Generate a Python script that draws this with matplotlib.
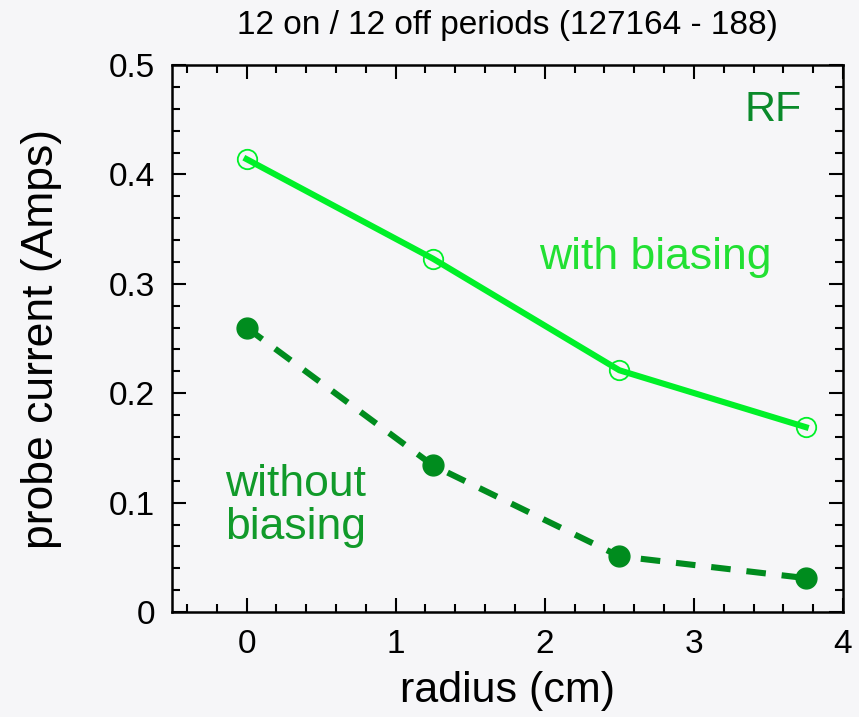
import numpy as np
import matplotlib
matplotlib.use("Agg")
import matplotlib.pyplot as plt
from matplotlib.ticker import MultipleLocator

plt.rcParams['font.family'] = ['Liberation Sans', 'DejaVu Sans']

# data
radius = [0.0, 1.25, 2.5, 3.75]
with_bias = [0.414, 0.323, 0.221, 0.169]
without_bias = [0.260, 0.134, 0.051, 0.031]

bright = '#00f028'
dark = '#008c1e'
bg = '#f6f6f8'

fig = plt.figure(figsize=(8.59, 7.17), dpi=100, facecolor=bg)
ax = fig.add_axes([0.2002, 0.1464, 0.7812, 0.7629], facecolor=bg)

ax.plot(radius, with_bias, '-', color=bright, lw=4.4, zorder=3)
ax.plot(radius, with_bias, 'o', color=bright, ms=14, mfc='none', mew=1.3, zorder=4)
ax.plot(radius, without_bias, '--', color=dark, lw=4.4, dashes=(3.2, 2.6), zorder=3)
ax.plot(radius, without_bias, 'o', color=dark, ms=15, zorder=4)

ax.set_xlim(-0.5, 4)
ax.set_ylim(0, 0.5)
ax.xaxis.set_major_locator(MultipleLocator(1))
ax.xaxis.set_minor_locator(MultipleLocator(0.2))
ax.yaxis.set_major_locator(MultipleLocator(0.1))
ax.yaxis.set_minor_locator(MultipleLocator(0.02))
ax.set_yticks([0, 0.1, 0.2, 0.3, 0.4, 0.5])
ax.set_yticklabels(['0', '0.1', '0.2', '0.3', '0.4', '0.5'])
ax.tick_params(which='both', direction='in', top=True, right=True, labelsize=24, width=1.5, pad=12)
ax.tick_params(which='major', length=10)
ax.tick_params(which='minor', length=6)
for s in ax.spines.values():
    s.set_linewidth(1.8)

ax.set_xlabel('radius (cm)', fontsize=31, labelpad=8)
ax.set_ylabel('probe current (Amps)', fontsize=32, labelpad=34)
ax.set_title('12 on / 12 off periods (127164 - 188)', fontsize=24, pad=22)

ax.text(3.53, 0.459, 'RF', color='#0a8a2a', fontsize=31, ha='center', va='center')
ax.text(2.74, 0.324, 'with biasing', color='#22e033', fontsize=32, ha='center', va='center')
ax.text(0.33, 0.097, 'without\nbiasing', color='#119a2a', fontsize=32, ha='center', va='center',
        linespacing=1.08)

fig.savefig('out.png', dpi=100, facecolor=bg)
